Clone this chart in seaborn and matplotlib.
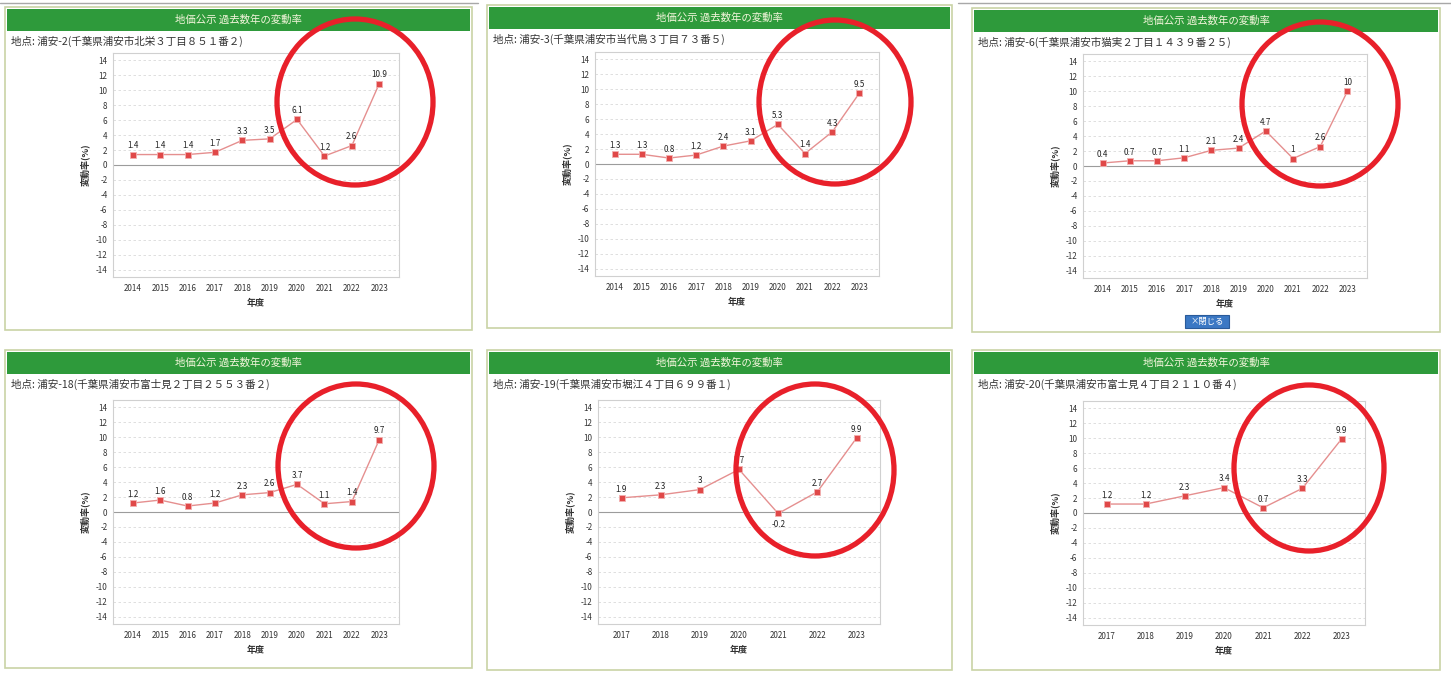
import numpy as np
import pandas as pd
import seaborn as sns
import matplotlib.pyplot as plt
from matplotlib.patches import Rectangle, Ellipse

sns.set_theme(style="white")
plt.rcParams['font.family'] = ['Noto Sans CJK JP', 'DejaVu Sans']
plt.rcParams['axes.unicode_minus'] = False

# ---- data ----
years_10 = ["2014", "2015", "2016", "2017", "2018", "2019", "2020", "2021", "2022", "2023"]
years_7 = ["2017", "2018", "2019", "2020", "2021", "2022", "2023"]

urayasu_2 = [1.4, 1.4, 1.4, 1.7, 3.3, 3.5, 6.1, 1.2, 2.6, 10.9]
urayasu_3 = [1.3, 1.3, 0.8, 1.2, 2.4, 3.1, 5.3, 1.4, 4.3, 9.5]
urayasu_6 = [0.4, 0.7, 0.7, 1.1, 2.1, 2.4, 4.7, 1, 2.6, 10]
urayasu_18 = [1.2, 1.6, 0.8, 1.2, 2.3, 2.6, 3.7, 1.1, 1.4, 9.7]
urayasu_19 = [1.9, 2.3, 3, 5.7, -0.2, 2.7, 9.9]
urayasu_20 = [1.2, 1.2, 2.3, 3.4, 0.7, 3.3, 9.9]

locations = [
    "地点: 浦安-2(千葉県浦安市北栄３丁目８５１番２)",
    "地点: 浦安-3(千葉県浦安市当代島３丁目７３番５)",
    "地点: 浦安-6(千葉県浦安市猫実２丁目１４３９番２５)",
    "地点: 浦安-18(千葉県浦安市富士見２丁目２５５３番２)",
    "地点: 浦安-19(千葉県浦安市堀江４丁目６９９番１)",
    "地点: 浦安-20(千葉県浦安市富士見４丁目２１１０番４)",
]
series = [urayasu_2, urayasu_3, urayasu_6, urayasu_18, urayasu_19, urayasu_20]
year_sets = [years_10, years_10, years_10, years_10, years_7, years_7]

header_title = "地価公示 過去数年の変動率"
y_label = "変動率(%)"
x_label = "年度"
y_ticks = list(range(-14, 15, 2))

# ---- layout (pixels) ----
W, H = 1451, 677
fig = plt.figure(figsize=(W / 100, H / 100), dpi=100)
fig.patch.set_facecolor("white")

# panel box, plot frame (x0, y0, x1, y1) measured from the top-left corner
boxes = [(5, 7, 472, 330), (487, 5, 952, 328), (972, 8, 1440, 332),
         (5, 350, 472, 668), (487, 350, 952, 670), (972, 350, 1440, 670)]
frames = [(113, 53, 399, 277), (595, 52, 879, 276), (1083, 54, 1367, 278),
          (113, 400, 399, 624), (598, 400, 880, 624), (1083, 401, 1365, 625)]
highlights = [(355, 102, 156, 166), (835, 102, 152, 164), (1320, 104, 156, 164),
              (356, 466, 156, 164), (815, 470, 158, 172), (1309, 468, 150, 166)]


def frac(x0, y0, x1, y1):
    return [x0 / W, 1 - y1 / H, (x1 - x0) / W, (y1 - y0) / H]


# background layer for panel boxes and headers
bg = fig.add_axes([0, 0, 1, 1], zorder=0)
bg.set_xlim(0, W)
bg.set_ylim(H, 0)
bg.axis("off")

bg.plot([0, 478], [3, 3], color="#a8a8a8", lw=1)
bg.plot([958, 1451], [3, 3], color="#a8a8a8", lw=1)

for (x0, y0, x1, y1), loc in zip(boxes, locations):
    bg.add_patch(Rectangle((x0, y0), x1 - x0, y1 - y0, facecolor="white",
                           edgecolor="#c9d3a6", lw=1.2))
    bg.add_patch(Rectangle((x0 + 2, y0 + 2), x1 - x0 - 4, 22, facecolor="#2e9a3b",
                           edgecolor="none"))
    bg.text((x0 + x1) / 2, y0 + 13, header_title, color="#f4f6dc", fontsize=7.5,
            ha="center", va="center")
    bg.text(x0 + 6, y0 + 34, loc, color="#333333", fontsize=7.6, ha="left", va="center")

# close button on the third panel
bg.add_patch(Rectangle((1185, 315), 44, 13, facecolor="#3b78c4", edgecolor="#2a5b9a", lw=0.8))
bg.text(1207, 321.5, "×閉じる", color="white", fontsize=6, ha="center", va="center")

line_color = "#e58f8f"
marker_color = "#e04848"

for vals, yrs, fr in zip(series, year_sets, frames):
    ax = fig.add_axes(frac(*fr), zorder=2)
    ax.set_facecolor("white")
    df = pd.DataFrame({"pos": np.arange(len(yrs)), "rate": vals})
    sns.lineplot(data=df, x="pos", y="rate", ax=ax, color=line_color, lw=1.0)
    sns.scatterplot(data=df, x="pos", y="rate", ax=ax, marker="s", s=22,
                    color=marker_color, edgecolor="#f2b0b0", linewidth=0.6, zorder=3)
    for i, v in enumerate(vals):
        if v < 0:
            ax.annotate(f"{v:g}", (i, v), xytext=(0, -5), textcoords="offset points",
                        ha="center", va="top", fontsize=5.8, color="#222222")
        else:
            ax.annotate(f"{v:g}", (i, v), xytext=(0, 3), textcoords="offset points",
                        ha="center", va="bottom", fontsize=5.8, color="#222222")

    n = len(yrs)
    pad = 0.72 if n == 10 else 0.6
    ax.set_xlim(-pad, n - 1 + pad)
    ax.set_ylim(-15, 15)
    ax.set_xticks(np.arange(n))
    ax.set_xticklabels(yrs)
    ax.set_yticks(y_ticks)
    ax.tick_params(axis="both", labelsize=5.8, colors="#333333", length=2, width=0.6, pad=2)
    ax.tick_params(axis="x", length=0, pad=5)
    for yv in y_ticks:
        if yv != 0:
            ax.axhline(yv, color="#d9d9d9", lw=0.6, ls=(0, (3, 3)), zorder=0)
    ax.axhline(0, color="#9c9c9c", lw=0.8, zorder=1)
    for sp in ax.spines.values():
        sp.set_color("#d0d0d0")
        sp.set_linewidth(0.8)
    ax.set_xlabel(x_label, fontsize=6.5, fontweight="bold", color="#333333", labelpad=4)
    ax.set_ylabel(y_label, fontsize=6.5, fontweight="bold", color="#333333", labelpad=4)

# highlight rings drawn on top
fg = fig.add_axes([0, 0, 1, 1], zorder=10)
fg.set_xlim(0, W)
fg.set_ylim(H, 0)
fg.axis("off")
fg.patch.set_alpha(0)
for cx, cy, w, h in highlights:
    fg.add_patch(Ellipse((cx, cy), w, h, facecolor="none", edgecolor="#e8202a", lw=3.8))

fig.savefig("out.png", dpi=100)
